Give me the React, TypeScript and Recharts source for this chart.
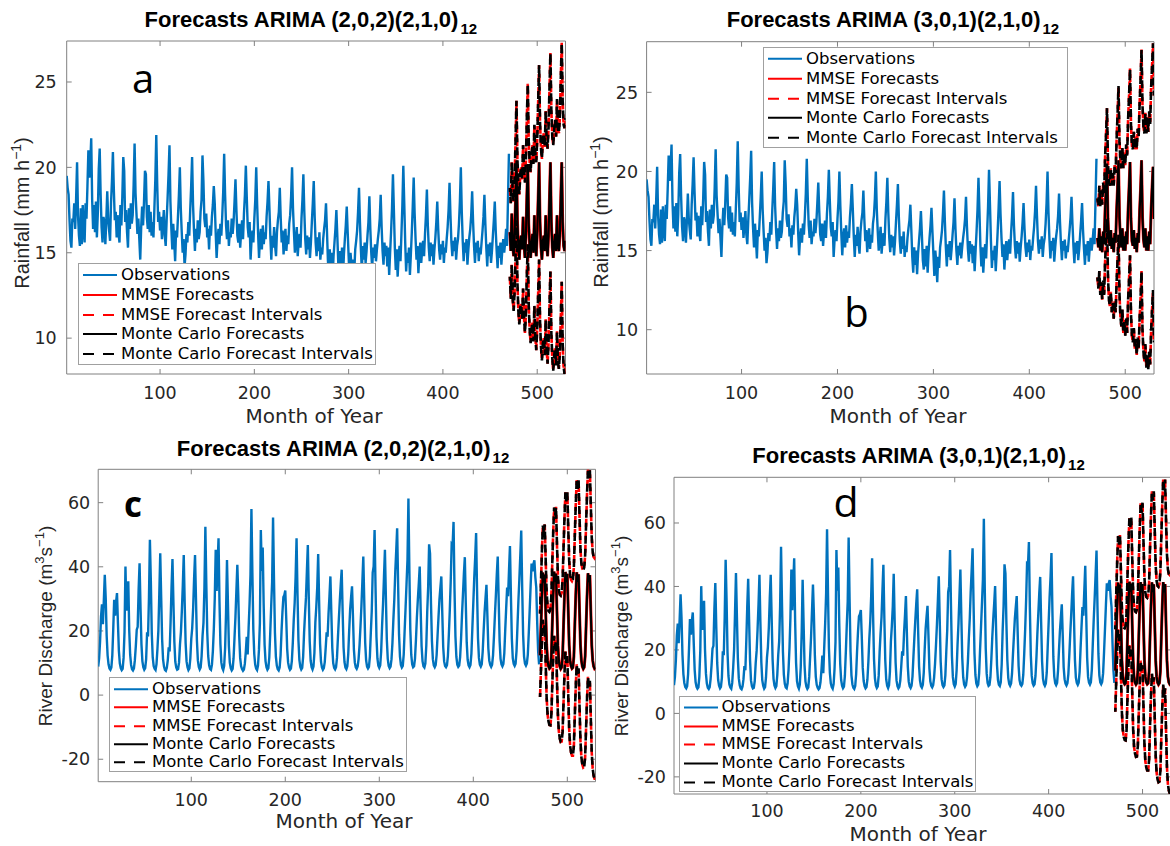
import React from 'react';
import { LineChart, Line, XAxis, YAxis, ReferenceArea, ReferenceLine, Legend } from 'recharts';

const MONTH_MIN = 1;
const MONTH_MAX = 530;
const FIRST_FORECAST_MONTH = 471;
const X_AXIS_H = 30;

const monthTicks = [100, 200, 300, 400, 500];
const rainfallTicks = [10, 15, 20, 25];
const dischargeTicks = [-20, 0, 20, 40, 60];

// monthly rainfall observations, months 1-470 (panels a and b)
const rainfallObs = [
  19.5,
  18.8, 18.4, 16.9, 15.7, 15.3, 17.0, 16.8, 17.9, 16.4, 18.2, 20.3,
  17.2, 16.0, 15.4, 17.6, 15.5, 17.8, 16.3, 15.6, 17.9, 17.0, 18.9, 21.0,
  19.4, 20.2, 21.7,
  18.1, 16.4, 17.8, 16.2, 18.0, 15.9, 17.3, 19.9, 21.1,
  18.4, 16.5, 15.6, 17.1, 16.8, 15.5, 16.9, 18.6, 17.0, 16.3, 15.7, 17.9, 19.2, 20.9,
  18.7, 16.9, 17.4, 15.9, 17.2, 16.1, 15.6, 17.8, 16.6, 18.3, 20.6,
  19.8, 16.8, 17.5, 16.2, 15.3, 17.6, 16.4, 17.9, 16.7, 17.2, 19.0, 21.4,
  18.5, 17.3, 16.1, 17.0, 15.8, 14.6, 16.5, 17.7, 16.6, 18.0, 19.8,
  19.6, 17.1, 16.4, 17.8, 16.2, 17.4, 16.0, 16.8, 15.9, 17.6, 19.3, 21.9,
  19.0, 16.8, 17.4, 16.3, 17.1, 15.8, 16.6, 17.5, 16.0, 15.4, 16.9, 18.2, 19.6, 21.3,
  18.0, 16.4, 15.2, 16.7, 15.7, 14.5, 16.3, 15.9, 17.1, 18.4, 20.0,
  17.6, 16.2, 15.0, 15.8, 14.2, 14.9, 16.1, 15.6, 16.8, 16.0, 17.5, 18.9, 20.6,
  17.8, 16.3, 15.1, 16.4, 15.6, 16.9, 15.8, 16.2, 17.4, 18.1, 20.7,
  19.2, 17.0, 16.5, 17.3, 15.9, 16.4, 15.2, 16.6, 16.0, 17.1, 17.8, 18.9,
  17.9, 16.2, 14.7, 15.8, 16.4, 15.5, 16.7, 16.0, 17.2, 18.6, 20.8,
  18.4, 16.6, 15.8, 16.9, 15.4, 16.2, 15.9, 17.0, 16.1, 16.8, 18.0, 19.3,
  17.5, 16.0, 15.6, 16.7, 15.3, 16.2, 16.9, 15.8, 17.3, 18.4, 20.1,
  18.2, 16.5, 15.9, 16.8, 14.6, 15.7, 16.3, 15.6, 17.0, 18.1, 20.0,
  17.8, 16.1, 14.7, 15.9, 16.4, 15.2, 16.6, 15.5, 16.2, 15.8, 17.1, 18.0, 19.2,
  17.6, 15.9, 14.6, 16.0, 15.3, 16.5, 15.4, 14.8, 16.2, 16.9, 17.4, 18.8,
  17.0, 15.6, 16.3, 14.9, 15.8, 16.4, 15.1, 16.0, 15.5, 16.7, 17.2, 18.3, 20.0,
  17.6, 16.2, 15.0, 15.8, 16.5, 14.8, 15.6, 16.1, 15.3, 17.0, 18.1, 19.6,
  17.4, 15.8, 14.9, 16.0, 15.2, 15.9, 14.7, 15.6, 16.8, 17.9, 19.2,
  17.1, 15.6, 14.8, 15.9, 15.1, 16.2, 14.6, 15.3, 14.9, 15.8, 16.4, 16.9, 17.9,
  16.3, 14.6, 13.6, 15.2, 14.1, 15.0, 13.5, 14.8, 15.6, 16.4, 17.5,
  16.0, 14.4, 13.8, 15.1, 14.0, 15.3, 13.6, 14.9, 15.8, 16.6, 17.7,
  16.2, 14.8, 13.4, 15.0, 14.3, 13.0, 14.6, 13.9, 15.2, 15.7, 16.3, 17.4, 18.8,
  16.8, 15.2, 14.0, 15.4, 14.6, 15.6, 14.4, 15.1, 16.0, 16.8, 18.3,
  16.4, 15.0, 14.1, 15.3, 14.7, 15.5, 14.5, 15.2, 15.8, 16.3, 17.0, 18.4,
  16.5, 15.1, 14.3, 15.6, 14.8, 15.4, 14.2, 15.3, 13.7, 15.0, 16.2, 17.6, 19.6,
  17.5, 15.3, 14.0, 15.2, 13.6, 14.8, 15.4, 14.5, 16.1, 17.8, 20.1,
  17.9, 15.6, 13.9, 15.0, 14.4, 15.3, 13.7, 14.9, 16.2, 17.7, 19.4,
  17.3, 15.8, 14.6, 15.4, 13.8, 14.9, 15.6, 14.4, 15.2, 15.7, 14.8, 16.1, 17.2, 18.7,
  16.6, 15.3, 14.5, 15.6, 14.8, 15.5, 14.3, 15.2, 15.9, 16.8, 18.0,
  16.4, 15.2, 14.6, 15.5, 14.9, 15.7, 14.4, 15.3, 15.0, 15.8, 16.5, 17.5, 19.1,
  17.2, 15.6, 14.8, 15.7, 15.1, 15.9, 14.6, 15.4, 15.8, 16.7, 18.0, 20.0,
  17.4, 15.7, 14.5, 15.6, 15.0, 15.8, 14.3, 15.2, 15.9, 16.4, 17.2, 18.6,
  16.8, 15.4, 14.4, 15.6, 15.0, 15.7, 14.5, 15.3, 14.9, 15.6, 16.3, 17.1, 18.4,
  16.7, 15.3, 14.2, 15.5, 14.8, 15.6, 14.4, 15.1, 16.0, 16.9, 18.0,
  16.3, 15.1, 14.1, 15.4, 14.7, 15.6, 14.3, 15.2, 15.8, 15.0, 15.6, 16.4, 15.4, 18.1, 20.8,
];

// monthly river discharge observations, months 1-470 (panels c and d)
const dischargeObs = [
  8.9, 11.5, 16.8, 24.5, 28.3, 22.1, 29.6, 37.5,
  30.2, 18.6, 12.4, 9.6, 8.3, 7.9, 8.6, 12.3, 20.5, 29.7,
  24.8, 28.9, 31.8,
  22.4, 13.8, 9.9, 8.4, 7.8, 8.2, 11.6, 19.7, 40.1,
  26.3, 29.8, 35.5, 20.2, 12.6, 9.4, 8.1, 7.7, 8.3, 10.9, 15.2, 20.4, 21.3, 32.8, 41.1,
  27.5, 15.9, 10.6, 8.7, 7.9, 8.4, 11.2, 19.6, 18.3, 30.4, 48.4,
  35.6, 19.2, 11.8, 9.1, 8.2, 7.8, 9.6, 14.3, 20.1, 31.7, 44.2,
  30.5, 17.4, 11.1, 8.9, 7.9, 7.6, 8.5, 10.8, 14.9, 13.6, 22.8, 33.5, 42.4,
  29.1, 16.7, 10.4, 8.6, 7.9, 8.1, 10.2, 15.8, 19.7, 26.4, 34.2, 43.7,
  28.8, 16.2, 10.5, 8.7, 7.8, 8.3, 11.4, 17.5, 20.9, 27.1, 36.3, 43.7,
  30.2, 17.1, 10.9, 8.8, 8.0, 8.6, 12.1, 18.4, 22.6, 33.5, 52.5,
  34.8, 19.6, 12.2, 9.3, 8.2, 7.9, 9.5, 13.8, 20.7, 30.2, 45.3, 32.5, 40.6, 48.9,
  29.3, 16.0, 10.2, 8.5, 7.8, 9.1, 14.6, 25.8, 42.1,
  28.7, 15.4, 10.1, 8.4, 7.7, 8.2, 11.5, 17.9, 24.3, 32.6, 40.6,
  31.2, 18.5, 11.6, 9.0, 8.1, 7.6, 8.0, 9.8, 13.5, 18.2, 12.7, 20.9, 28.4, 37.6, 58.0,
  38.2, 20.6, 12.8, 9.5, 8.3, 7.8, 9.2, 14.1, 22.5, 51.5, 38.7, 46.0,
  28.4, 15.7, 10.6, 8.7, 7.9, 8.4, 11.8, 19.3, 27.6, 35.2, 55.4,
  36.0, 19.5, 12.0, 9.2, 8.1, 7.7, 8.6, 12.4, 19.8, 25.9, 30.6, 31.2, 32.6,
  24.1, 14.5, 10.2, 8.6, 7.9, 8.3, 10.7, 16.2, 23.4, 28.8, 36.9, 48.9,
  31.5, 17.2, 11.0, 8.8, 8.0, 8.5, 11.9, 19.4, 25.2, 30.3, 38.7, 46.8,
  30.4, 16.8, 10.7, 8.7, 8.0, 8.9, 13.2, 22.7, 27.5, 33.6, 44.0,
  29.2, 16.1, 10.4, 8.6, 7.9, 8.4, 10.3, 14.7, 19.6, 18.2, 25.3, 30.8, 37.0,
  25.6, 14.8, 10.0, 8.5, 8.0, 8.7, 11.6, 17.9, 23.8, 29.4, 34.5, 39.1,
  26.2, 14.9, 10.3, 8.6, 8.1, 9.0, 12.8, 20.2, 26.7, 30.5, 33.9,
  24.5, 14.2, 10.1, 8.7, 8.2, 8.9, 11.3, 15.6, 21.4, 27.8, 35.3, 43.2,
  29.6, 16.4, 10.8, 8.9, 8.3, 8.8, 12.0, 19.5, 26.3, 38.2, 40.1, 51.5,
  33.8, 18.1, 11.5, 9.2, 8.5, 9.3, 13.6, 21.8, 28.5, 36.9, 45.3,
  30.7, 17.5, 11.4, 9.1, 8.4, 8.9, 11.2, 16.3, 23.6, 29.9, 38.4, 44.9, 52.0,
  35.1, 19.0, 12.1, 9.4, 8.6, 9.1, 12.7, 20.3, 27.4, 34.8, 42.2, 61.3,
  38.9, 20.5, 12.6, 9.6, 8.7, 9.0, 11.4, 17.2, 24.1, 29.7, 34.6, 40.1,
  26.8, 15.3, 10.6, 9.0, 8.6, 9.8, 15.4, 25.9, 33.7, 47.0,
  44.1, 28.6, 16.9, 11.2, 9.3, 8.7, 9.4, 12.5, 18.6, 24.3, 29.8, 33.5, 37.0,
  25.7, 15.0, 10.5, 9.1, 8.7, 9.3, 12.2, 18.8, 26.4, 35.6, 47.1, 46.7, 54.0,
  33.2, 18.4, 11.9, 9.5, 8.8, 9.2, 11.8, 17.6, 25.1, 31.4, 37.8, 43.0,
  28.9, 16.5, 11.0, 9.3, 8.7, 9.4, 12.9, 20.8, 28.6, 36.4, 42.8, 50.5,
  32.6, 17.8, 11.6, 9.5, 8.9, 9.6, 13.5, 19.9, 25.8, 30.2, 34.4,
  24.7, 14.6, 10.8, 9.4, 8.8, 9.5, 12.4, 18.3, 24.9, 31.0, 37.6, 43.2,
  29.8, 16.9, 11.3, 9.6, 9.0, 9.7, 13.1, 20.4, 27.2, 33.5, 30.8, 38.9, 46.5,
  31.4, 17.6, 11.5, 9.7, 9.1, 9.8, 13.8, 21.6, 29.4, 36.2, 43.5, 51.3,
  33.7, 18.9, 12.0, 9.8, 9.2, 9.9, 12.6, 19.2, 26.5, 34.1, 41.0, 38.6, 40.9, 42.0, 36.8, 33.5, 22.4, 13.6, 9.6,
];

// forecasts for months 471-530
const rainAForecast = [
  16.2, 15.1, 17.3, 15.4, 14.8, 16.0, 18.1, 20.4, 16.9, 15.3, 14.6, 15.7,
  16.0, 15.2, 17.1, 15.5, 14.7, 15.9, 18.3, 20.2, 16.7, 15.4, 14.7, 15.6,
  16.1, 15.0, 17.2, 15.4, 14.8, 16.1, 18.2, 20.3, 16.8, 15.3, 14.6, 15.7,
  16.0, 15.1, 17.2, 15.5, 14.8, 16.0, 18.2, 20.3, 16.8, 15.3, 14.7, 15.6,
  16.1, 15.1, 17.2, 15.4, 15.1, 16.0, 18.2, 20.3, 16.8, 15.4, 15.1, 15.7,
];
const rainAUpper = [
  18.8, 17.9, 20.3, 18.5, 18.0, 19.3, 21.5, 23.9, 20.5, 19.0, 18.4, 19.6,
  20.0, 19.3, 21.3, 19.8, 19.1, 20.4, 22.9, 24.9, 21.5, 20.3, 19.7, 20.7,
  21.3, 20.2, 22.5, 20.8, 20.3, 21.6, 23.8, 26.0, 22.6, 21.1, 20.5, 21.7,
  22.0, 21.2, 23.3, 21.7, 21.1, 22.3, 24.6, 26.7, 23.3, 21.8, 21.3, 22.2,
  22.8, 21.8, 24.0, 22.2, 22.0, 22.9, 25.2, 27.3, 23.9, 22.5, 22.3, 22.9,
];
const rainALower = [
  13.6, 12.3, 14.3, 12.3, 11.6, 12.7, 14.7, 16.9, 13.3, 11.6, 10.8, 11.8,
  12.0, 11.1, 12.9, 11.2, 10.3, 11.4, 13.7, 15.5, 11.9, 10.5, 9.7, 10.5,
  10.9, 9.8, 11.9, 10.0, 9.3, 10.6, 12.6, 14.6, 11.0, 9.5, 8.7, 9.7,
  10.0, 9.0, 11.1, 9.3, 8.5, 9.7, 11.8, 13.9, 10.3, 8.8, 8.1, 9.0,
  9.4, 8.4, 10.4, 8.6, 8.2, 9.1, 11.2, 13.3, 9.7, 8.3, 7.9, 8.5,
];

const rainBForecast = [
  15.8, 15.2, 16.4, 15.0, 15.9, 14.9, 16.2, 15.4, 17.6, 18.9, 20.5, 17.0,
  15.6, 15.3, 16.3, 15.1, 15.8, 14.9, 16.1, 15.5, 17.5, 19.0, 20.7, 17.1,
  15.7, 15.2, 16.4, 15.0, 15.9, 15.0, 16.2, 15.4, 17.6, 19.0, 20.6, 17.0,
  15.6, 15.3, 16.3, 15.1, 15.8, 14.9, 16.1, 15.5, 17.5, 18.9, 20.7, 17.1,
  15.7, 15.2, 16.4, 15.0, 15.9, 15.0, 16.2, 15.4, 17.6, 19.0, 20.3, 17.0,
];
const rainBUpper = [
  18.3, 17.8, 19.1, 17.8, 18.8, 17.9, 19.3, 18.6, 20.9, 22.3, 24.0, 20.6,
  19.3, 19.1, 20.2, 19.1, 19.9, 19.1, 20.4, 19.9, 22.0, 23.6, 25.4, 21.9,
  20.6, 20.2, 21.5, 20.2, 21.2, 20.4, 21.7, 21.0, 23.3, 24.8, 26.5, 23.0,
  21.6, 21.4, 22.5, 21.4, 22.2, 21.4, 22.7, 22.2, 24.3, 25.8, 27.7, 24.2,
  22.8, 22.4, 23.7, 22.4, 23.4, 22.5, 23.8, 23.0, 25.3, 26.7, 28.1, 24.8,
];
const rainBLower = [
  13.3, 12.6, 13.7, 12.2, 13.0, 11.9, 13.1, 12.2, 14.3, 15.5, 17.0, 13.4,
  11.9, 11.5, 12.4, 11.1, 11.7, 10.7, 11.8, 11.1, 13.0, 14.4, 16.0, 12.3,
  10.8, 10.2, 11.3, 9.8, 10.6, 9.6, 10.7, 9.8, 11.9, 13.2, 14.7, 11.0,
  9.6, 9.2, 10.1, 8.8, 9.4, 8.4, 9.5, 8.8, 10.7, 12.0, 13.7, 10.0,
  8.6, 8.0, 9.1, 7.6, 8.4, 7.5, 8.6, 7.8, 9.9, 11.3, 12.5, 9.2,
];

const dischCForecast = [
  12.4, 21.5, 30.8, 38.2, 35.1, 37.6, 26.3, 15.8, 10.9, 9.0, 8.3, 8.6,
  12.0, 21.9, 31.2, 38.5, 35.4, 37.9, 26.0, 15.5, 10.7, 8.9, 8.2, 8.7,
  12.2, 21.7, 31.0, 38.4, 35.2, 37.8, 26.2, 15.7, 10.8, 9.0, 8.3, 8.6,
  12.1, 21.8, 31.1, 38.3, 35.3, 37.7, 26.1, 15.6, 10.8, 8.9, 8.2, 8.7,
  12.2, 21.6, 30.9, 38.0, 35.2, 37.4, 26.2, 15.6, 10.9, 9.0, 8.3, 8.6,
];
const dischCUpper = [
  25.4, 35.1, 45.0, 52.9, 50.3, 53.2, 42.3, 32.2, 27.7, 26.2, 25.9, 26.6,
  30.5, 40.9, 50.7, 58.5, 55.8, 58.7, 47.2, 37.1, 32.7, 31.3, 31.0, 31.9,
  35.8, 45.7, 55.4, 63.2, 60.4, 63.4, 52.2, 42.0, 37.4, 35.9, 35.5, 36.1,
  39.9, 49.9, 59.5, 67.0, 64.3, 67.0, 55.7, 45.5, 41.0, 39.4, 39.0, 39.8,
  43.6, 53.3, 62.9, 70.3, 67.8, 70.3, 59.4, 49.1, 44.7, 43.1, 42.7, 43.3,
];
const dischCLower = [
  -0.6, 7.9, 16.6, 23.5, 19.9, 22.0, 10.3, -0.6, -5.9, -8.2, -9.3, -9.4,
  -6.5, 2.9, 11.7, 18.5, 15.0, 17.1, 4.8, -6.1, -11.3, -13.5, -14.6, -14.5,
  -11.4, -2.3, 6.6, 13.6, 10.0, 12.2, 0.2, -10.6, -15.8, -17.9, -18.9, -18.9,
  -15.7, -6.3, 2.7, 9.6, 6.3, 8.4, -3.5, -14.3, -19.4, -21.6, -22.6, -22.4,
  -19.2, -10.1, -1.1, 5.7, 2.6, 4.5, -7.0, -17.9, -22.9, -25.1, -26.1, -26.1,
];

const dischDForecast = [
  13.5, 24.0, 33.6, 41.2, 38.0, 40.6, 28.4, 16.9, 11.6, 9.8, 9.2, 9.5,
  13.1, 24.3, 34.0, 41.5, 38.3, 40.9, 28.1, 16.6, 11.4, 9.7, 9.1, 9.6,
  13.3, 24.1, 33.8, 41.4, 38.1, 40.8, 28.3, 16.8, 11.5, 9.8, 9.2, 9.5,
  13.2, 24.2, 33.9, 41.3, 38.2, 40.7, 28.2, 16.7, 11.5, 9.7, 9.1, 9.6,
  13.3, 24.0, 33.7, 41.4, 38.1, 40.8, 28.3, 16.7, 11.6, 9.8, 9.2, 9.5,
];
const dischDUpper = [
  26.5, 37.6, 47.8, 55.9, 53.2, 56.2, 44.4, 33.3, 28.4, 27.0, 26.8, 27.5,
  31.6, 43.3, 53.5, 61.5, 58.7, 61.7, 49.3, 38.2, 33.4, 32.1, 31.9, 32.8,
  36.9, 48.1, 58.2, 66.2, 63.3, 66.4, 54.3, 43.1, 38.1, 36.7, 36.4, 37.0,
  41.0, 52.3, 62.3, 70.0, 67.2, 70.0, 57.8, 46.6, 41.7, 40.2, 39.9, 40.7,
  44.7, 55.7, 65.7, 73.7, 70.7, 73.7, 61.5, 50.2, 45.4, 43.9, 43.6, 44.2,
];
const dischDLower = [
  0.5, 10.4, 19.4, 26.5, 22.8, 25.0, 12.4, 0.5, -5.2, -7.4, -8.4, -8.5,
  -5.4, 5.3, 14.5, 21.5, 17.9, 20.1, 6.9, -5.0, -10.6, -12.7, -13.7, -13.6,
  -10.3, 0.1, 9.4, 16.6, 12.9, 15.2, 2.3, -9.5, -15.1, -17.1, -18.0, -18.0,
  -14.6, -3.9, 5.5, 12.6, 9.2, 11.4, -1.4, -13.2, -18.7, -20.8, -21.7, -21.5,
  -18.1, -7.7, 1.7, 9.1, 5.5, 7.9, -4.9, -16.8, -22.2, -24.3, -25.2, -25.2,
];

const OBS_BLUE = '#0072BD';
const MMSE_RED = '#FF0000';
const MC_BLACK = '#000000';
const BOX_GRAY = '#808080';
const TEXT = '#262626';
const TICK_FONT = "'DejaVu Sans', sans-serif";
const LABEL_FONT = "'Liberation Sans', Arial, sans-serif";

const legendItems = [
  { label: 'Observations', color: OBS_BLUE, dash: undefined },
  { label: 'MMSE Forecasts', color: MMSE_RED, dash: undefined },
  { label: 'MMSE Forecast Intervals', color: MMSE_RED, dash: '11 9' },
  { label: 'Monte Carlo Forecasts', color: MC_BLACK, dash: undefined },
  { label: 'Monte Carlo Forecast Intervals', color: MC_BLACK, dash: '11 9' },
];

// Monte Carlo results sit on top of the MMSE ones, so they share the values
function buildRows(obs: number[], fc: number[], lo: number[], hi: number[]) {
  const rows: any[] = obs.map((v, i) => ({ month: i + 1, obs: v }));
  fc.forEach((v, i) => {
    rows.push({ month: FIRST_FORECAST_MONTH + i, fc: v, lo: lo[i], hi: hi[i], mc: v, mcLo: lo[i], mcHi: hi[i] });
  });
  return rows;
}

const panels = [
  {
    id: 'a', left: 0, top: 0, width: 600, height: 420,
    margin: { top: 41, right: 34.5, bottom: 16, left: 0 }, yAxisWidth: 66.7,
    yDomain: [7.9, 27.4], yTicks: rainfallTicks, xTickMargin: 7, yTickMargin: 4,
    obs: rainfallObs, fc: rainAForecast, lo: rainALower, hi: rainAUpper,
    legend: { left: 78, top: 263, width: 298, height: 102, rowH: 19.8, firstRow: 12 },
  },
  {
    id: 'b', left: 580, top: 0, width: 590, height: 420,
    margin: { top: 41.7, right: 16, bottom: 16, left: 0 }, yAxisWidth: 66.6,
    yDomain: [7.2, 28.2], yTicks: rainfallTicks, xTickMargin: 7, yTickMargin: 2.5,
    obs: rainfallObs, fc: rainBForecast, lo: rainBLower, hi: rainBUpper,
    legend: { left: 183, top: 46.7, width: 305, height: 101.6, rowH: 19.6, firstRow: 12.6 },
  },
  {
    id: 'c', left: 0, top: 420, width: 620, height: 426,
    margin: { top: 49.3, right: 24.5, bottom: 34.3, left: 0 }, yAxisWidth: 98.2,
    yDomain: [-27, 70.4], yTicks: dischargeTicks, xTickMargin: 6, yTickMargin: 2,
    obs: dischargeObs, fc: dischCForecast, lo: dischCLower, hi: dischCUpper,
    legend: { left: 109, top: 257.3, width: 298, height: 95, rowH: 18.4, firstRow: 11.7 },
  },
  {
    id: 'd', left: 600, top: 420, width: 575, height: 426,
    margin: { top: 57.3, right: 4.3, bottom: 22, left: 0 }, yAxisWidth: 74,
    yDomain: [-25.4, 74.4], yTicks: dischargeTicks, xTickMargin: 5, yTickMargin: 2,
    obs: dischargeObs, fc: dischDForecast, lo: dischDLower, hi: dischDUpper,
    legend: { left: 78.6, top: 275.7, width: 297.2, height: 96.6, rowH: 18.8, firstRow: 11.6 },
  },
];

const titles = [
  { x: 144.6, y: 26.7, text: 'Forecasts ARIMA (2,0,2)(2,1,0)' },
  { x: 726.7, y: 26.7, text: 'Forecasts ARIMA (3,0,1)(2,1,0)' },
  { x: 176.8, y: 456, text: 'Forecasts ARIMA (2,0,2)(2,1,0)' },
  { x: 752.3, y: 463.3, text: 'Forecasts ARIMA (3,0,1)(2,1,0)' },
];

const xLabels = [
  { x: 314, y: 423 },
  { x: 898, y: 423 },
  { x: 344, y: 828 },
  { x: 918, y: 840.5 },
];

const letters = [
  { x: 143, y: 93, text: 'a', size: 40, weight: 400 },
  { x: 856.5, y: 327, text: 'b', size: 40, weight: 400 },
  { x: 133, y: 517, text: 'c', size: 35, weight: 700 },
  { x: 846, y: 517, text: 'd', size: 41, weight: 400 },
];

const LegendBox = ({ box }: { box: any }) => (
  <div
    style={{
      boxSizing: 'border-box', width: box.width, height: box.height,
      border: '1px solid #a0a0a0', background: '#fff',
      paddingTop: box.firstRow - box.rowH / 2 - 1,
      fontFamily: TICK_FONT, fontSize: 16.5, color: '#000',
    }}
  >
    {legendItems.map(item => (
      <div key={item.label} style={{ display: 'flex', alignItems: 'center', height: box.rowH, whiteSpace: 'nowrap' }}>
        <svg width={42} height={box.rowH} style={{ flex: 'none' }}>
          <line x1={4} x2={38} y1={box.rowH / 2} y2={box.rowH / 2} stroke={item.color} strokeWidth={2} strokeDasharray={item.dash} />
        </svg>
        <span style={{ lineHeight: `${box.rowH}px` }}>{item.label}</span>
      </div>
    ))}
  </div>
);

const ForecastPanel = ({ cfg }: { cfg: any }) => {
  const rows = buildRows(cfg.obs, cfg.fc, cfg.lo, cfg.hi);
  const [y0, y1] = cfg.yDomain;
  const plotW = cfg.width - cfg.margin.left - cfg.margin.right - cfg.yAxisWidth;
  const plotH = cfg.height - cfg.margin.top - cfg.margin.bottom - X_AXIS_H;
  const tickLenY = ((y1 - y0) * 5) / plotH;
  const tickLenX = ((MONTH_MAX - MONTH_MIN) * 5) / plotW;
  const tickStyle = { fontSize: 17.5, fill: TEXT, fontFamily: TICK_FONT };

  return (
    <div style={{ position: 'absolute', left: cfg.left, top: cfg.top }}>
      <LineChart width={cfg.width} height={cfg.height} data={rows} margin={cfg.margin}>
        <XAxis
          type="number" dataKey="month" domain={[MONTH_MIN, MONTH_MAX]} ticks={monthTicks}
          allowDataOverflow axisLine={false} tickLine={false} height={X_AXIS_H}
          tickMargin={cfg.xTickMargin} tick={tickStyle}
        />
        <YAxis
          type="number" domain={cfg.yDomain} ticks={cfg.yTicks} allowDataOverflow
          axisLine={false} tickLine={false} width={cfg.yAxisWidth}
          tickMargin={cfg.yTickMargin} tick={tickStyle}
        />
        <ReferenceArea x1={MONTH_MIN} x2={MONTH_MAX} y1={y0} y2={y1} fill="none" stroke={BOX_GRAY} strokeWidth={1} />
        {monthTicks.map(m => (
          <ReferenceLine key={`xb${m}`} segment={[{ x: m, y: y0 }, { x: m, y: y0 + tickLenY }]} stroke={BOX_GRAY} />
        ))}
        {monthTicks.map(m => (
          <ReferenceLine key={`xt${m}`} segment={[{ x: m, y: y1 }, { x: m, y: y1 - tickLenY }]} stroke={BOX_GRAY} />
        ))}
        {cfg.yTicks.map((t: number) => (
          <ReferenceLine key={`yl${t}`} segment={[{ x: MONTH_MIN, y: t }, { x: MONTH_MIN + tickLenX, y: t }]} stroke={BOX_GRAY} />
        ))}
        {cfg.yTicks.map((t: number) => (
          <ReferenceLine key={`yr${t}`} segment={[{ x: MONTH_MAX, y: t }, { x: MONTH_MAX - tickLenX, y: t }]} stroke={BOX_GRAY} />
        ))}
        <Line type="linear" dataKey="obs" stroke={OBS_BLUE} strokeWidth={2.4} dot={false} activeDot={false} isAnimationActive={false} />
        <Line type="linear" dataKey="fc" stroke={MMSE_RED} strokeWidth={3} dot={false} activeDot={false} isAnimationActive={false} />
        <Line type="linear" dataKey="lo" stroke={MMSE_RED} strokeWidth={2.6} strokeDasharray="8 5" dot={false} activeDot={false} isAnimationActive={false} />
        <Line type="linear" dataKey="hi" stroke={MMSE_RED} strokeWidth={2.6} strokeDasharray="8 5" dot={false} activeDot={false} isAnimationActive={false} />
        <Line type="linear" dataKey="mc" stroke={MC_BLACK} strokeWidth={2.2} dot={false} activeDot={false} isAnimationActive={false} />
        <Line type="linear" dataKey="mcLo" stroke={MC_BLACK} strokeWidth={2.6} strokeDasharray="8 5" strokeDashoffset={4} dot={false} activeDot={false} isAnimationActive={false} />
        <Line type="linear" dataKey="mcHi" stroke={MC_BLACK} strokeWidth={2.6} strokeDasharray="8 5" strokeDashoffset={4} dot={false} activeDot={false} isAnimationActive={false} />
        <Legend
          layout="vertical" align="center" verticalAlign="middle"
          wrapperStyle={{ left: cfg.legend.left, top: cfg.legend.top, width: cfg.legend.width, height: cfg.legend.height }}
          content={() => <LegendBox box={cfg.legend} />}
        />
      </LineChart>
    </div>
  );
};

export default function App() {
  return (
    <div style={{ position: 'absolute', left: 0, top: 0, width: 1170, height: 846, overflow: 'hidden', background: '#fff' }}>
      {panels.map(p => (
        <ForecastPanel key={p.id} cfg={p} />
      ))}
      <svg width={1170} height={846} style={{ position: 'absolute', left: 0, top: 0, pointerEvents: 'none' }}>
        {titles.map(t => (
          <text key={`${t.x}`} x={t.x} y={t.y} fontFamily={LABEL_FONT} fontWeight={700} fontSize={22} fill="#000">
            {t.text}
            <tspan dx={2} dy={7} fontSize={15}>12</tspan>
          </text>
        ))}
        {xLabels.map(l => (
          <text key={`${l.x}`} x={l.x} y={l.y} textAnchor="middle" fontFamily={TICK_FONT} fontSize={20} fill={TEXT}>
            Month of Year
          </text>
        ))}
        {[{ x: 28.6, y: 213 }, { x: 608, y: 212 }].map(l => (
          <text key={`${l.x}`} transform={`translate(${l.x},${l.y}) rotate(-90)`} textAnchor="middle" fontFamily={LABEL_FONT} fontSize={20} fill={TEXT}>
            Rainfall (mm h<tspan dy={-8} fontSize={14}>−1</tspan><tspan dy={8}>)</tspan>
          </text>
        ))}
        {[{ x: 51.8, y: 626 }, { x: 628, y: 636 }].map(l => (
          <text key={`${l.x}`} transform={`translate(${l.x},${l.y}) rotate(-90)`} textAnchor="middle" fontFamily={LABEL_FONT} fontSize={19} fill={TEXT}>
            River Discharge (m<tspan dy={-8} fontSize={13}>3</tspan><tspan dy={8}>s</tspan><tspan dy={-8} fontSize={13}>−1</tspan><tspan dy={8}>)</tspan>
          </text>
        ))}
        {letters.map(l => (
          <text key={l.text} x={l.x} y={l.y} textAnchor="middle" fontFamily="'Open Sans', sans-serif" fontWeight={l.weight} fontSize={l.size} fill="#000">
            {l.text}
          </text>
        ))}
      </svg>
    </div>
  );
}
